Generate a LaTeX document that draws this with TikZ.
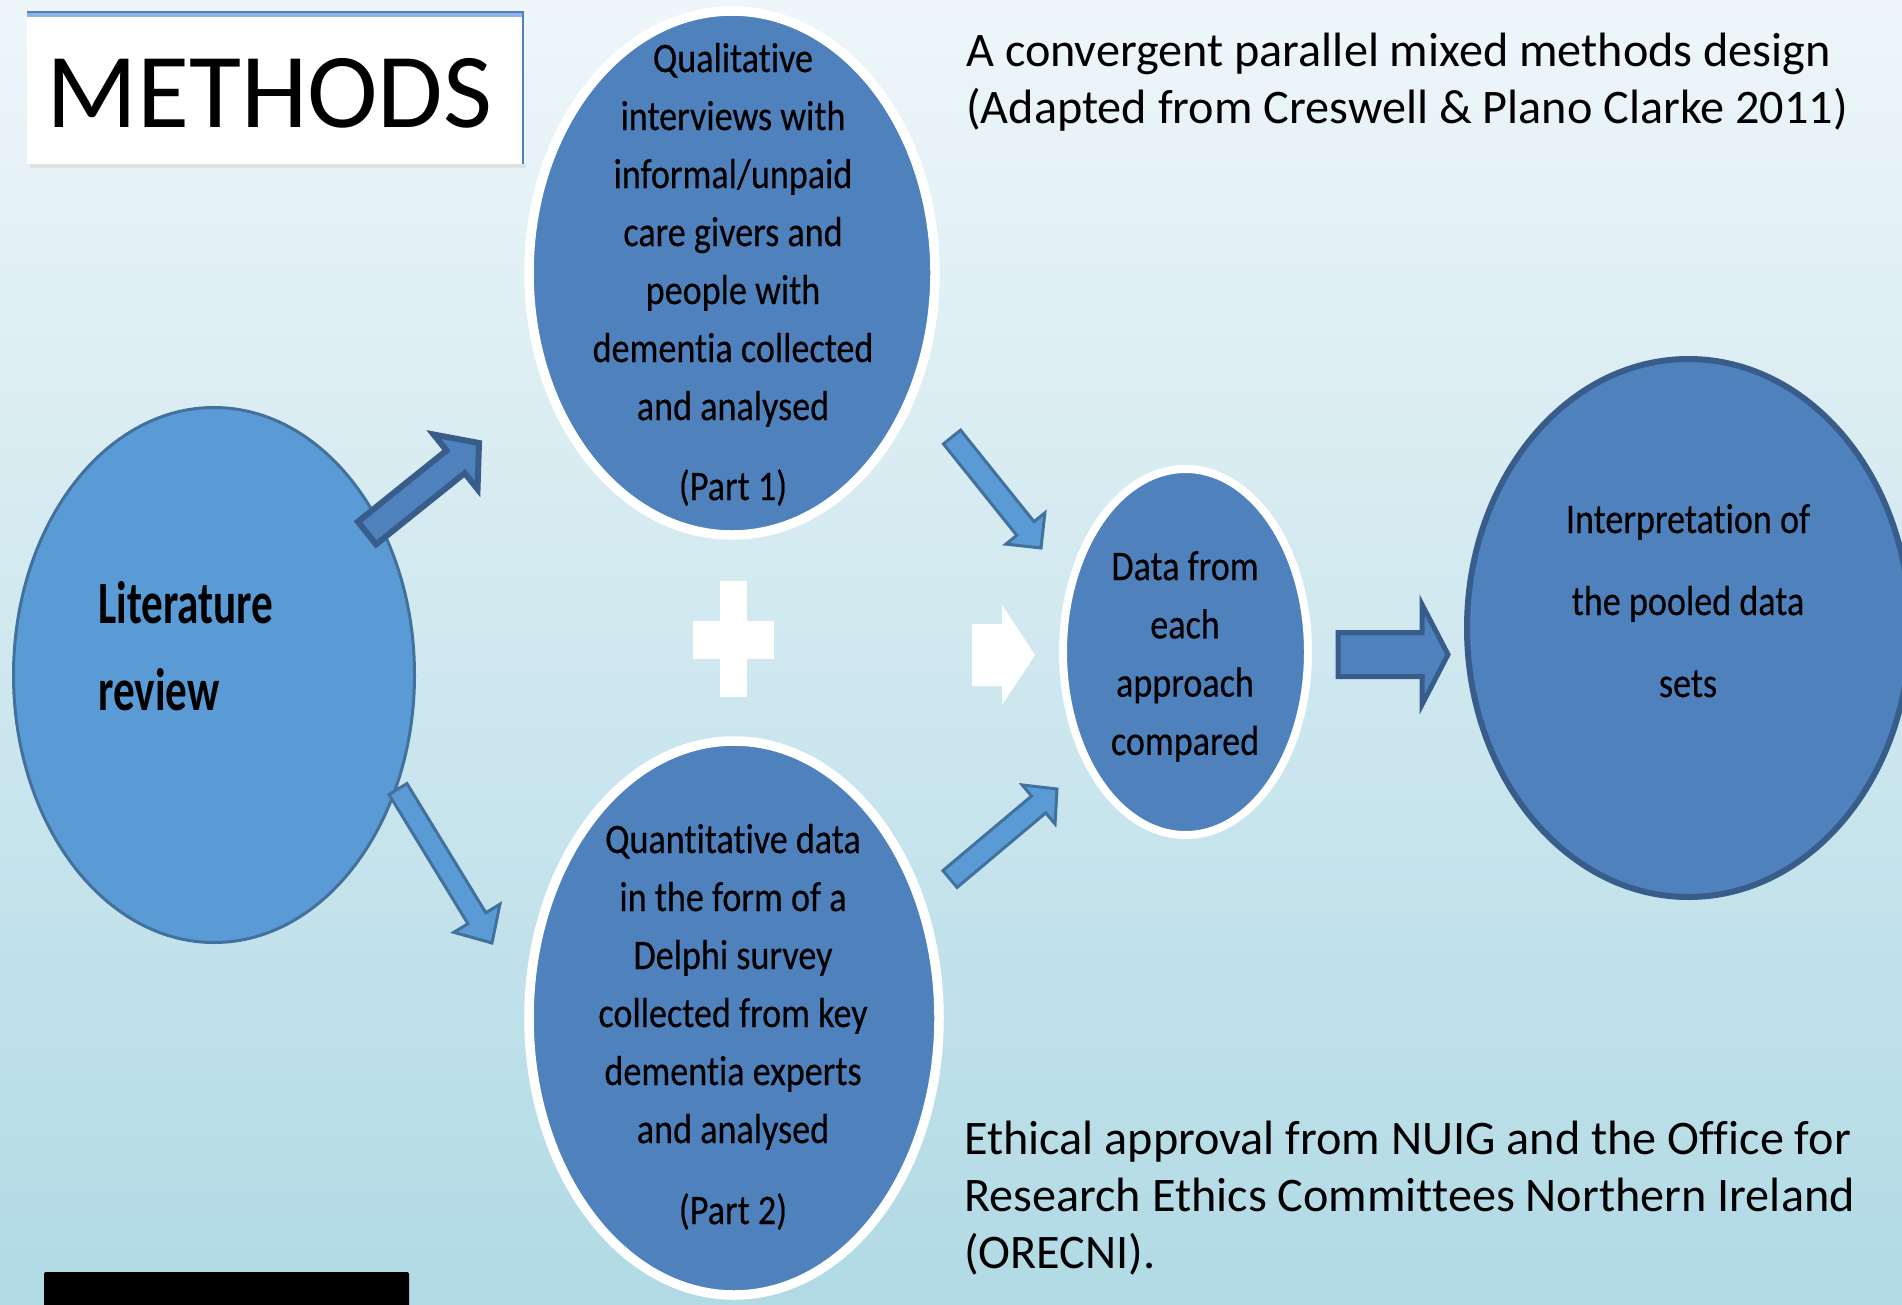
\documentclass[tikz,border=0pt]{standalone}
\usepackage{fontspec}
\setmainfont{Carlito}[Ligatures=NoCommon]
\newfontfamily\narrowfont{Carlito}[FakeStretch=0.86, FakeBold=0.4, Ligatures=NoCommon]
\newfontfamily\litfont{Carlito}[FakeStretch=0.72, Ligatures=NoCommon]
\usetikzlibrary{shapes.geometric,calc}

\definecolor{bgtop}{HTML}{EEF6F9}
\definecolor{bgbottom}{HTML}{B1DAE5}
\definecolor{officeblue}{HTML}{4F81BD}
\definecolor{darkrim}{HTML}{385D8A}
\definecolor{skyblue}{HTML}{5B9BD5}
\definecolor{skyrim}{HTML}{41719C}
\definecolor{stripblue}{HTML}{8EB4E3}

% block arrow: [style]{tail}{tip}{half shaft}{half head}{head length}
\newcommand{\blockarrow}[6][]{%
  \path ($(#3)!#6!(#2)$) coordinate (neck);
  \filldraw[#1] ($(#2)!#4!90:(#3)$) -- ($(neck)!#4!90:(#3)$)
    -- ($(neck)!#5!90:(#3)$) -- (#3) -- ($(neck)!#5!-90:(#3)$)
    -- ($(neck)!#4!-90:(#3)$) -- ($(#2)!#4!-90:(#3)$) -- cycle;
}

\tikzset{
  bubble/.style={ellipse, inner sep=0pt, fill=officeblue, draw=white, line width=9.5pt},
  bubbletext/.style={anchor=base, inner sep=0pt, font=\narrowfont\fontsize{42}{50}\selectfont},
  littext/.style={anchor=base west, inner sep=0pt, font=\litfont\bfseries\fontsize{60}{70}\selectfont},
  plaintext/.style={anchor=base west, inner sep=0pt, font=\fontsize{48.2}{57}\selectfont},
  darkarrow/.style={fill=officeblue, draw=darkrim, line width=6pt},
  lightarrow/.style={fill=skyblue, draw=skyrim, line width=3pt},
}

\begin{document}
\begin{tikzpicture}[x=1pt, y=-1pt]
  \useasboundingbox (0,0) rectangle (1902,1304);
  \clip (0,0) rectangle (1902,1304);
  \shade[top color=bgtop, bottom color=bgbottom] (0,0) rectangle (1902,1304);

  % title box
  \fill[black!12] (30,164) rectangle (526,168);
  \fill[white] (27,12) rectangle (523,164);
  \fill[stripblue] (27,12) rectangle (523,17);
  \draw[officeblue, line width=1.2pt] (27,12) -- (523,12) -- (523,164);
  \node[anchor=base west, inner sep=0pt, font=\fontsize{106.5}{110}\selectfont] (title) at (46,127) {METHODS};

  % circles
  \node[ellipse, inner sep=0pt, fill=skyblue, draw=skyrim, line width=3pt,
        minimum width=401, minimum height=535] (lit) at (214,675) {};
  \node[bubble, minimum width=406, minimum height=524] (qual) at (732,273) {};
  \node[bubble, minimum width=410, minimum height=554] (quant) at (734,1018) {};
  \node[bubble, line width=8pt, minimum width=245, minimum height=366] (data) at (1185.5,652) {};
  \node[bubble, draw=darkrim, line width=6pt, minimum width=443, minimum height=538] (interp) at (1688.5,628) {};

  % circle texts
  \node[littext] (lit-1) at (98,623) {Literature};
  \node[littext] (lit-2) at (98,710) {review};
  \foreach \t [count=\i from 0] in {Qualitative,interviews with,informal/unpaid,care givers and,people with,dementia collected,and analysed}
    \node[bubbletext] (qual-\i) at (733,72+58*\i) {\t};
  \node[bubbletext] (qual-part) at (733,500) {(Part 1)};
  \foreach \t [count=\i from 0] in {Quantitative data,in the form of a,Delphi survey,collected from key,dementia experts,and analysed}
    \node[bubbletext] (quant-\i) at (733,853+58*\i) {\t};
  \node[bubbletext] (quant-part) at (733,1224) {(Part 2)};
  \foreach \t [count=\i from 0] in {Data from,each,approach,compared}
    \node[bubbletext] (data-\i) at (1185,580+58.3*\i) {\t};
  \foreach \t [count=\i from 0] in {Interpretation of,the pooled data,sets}
    \node[bubbletext] (interp-\i) at (1688,533+82*\i) {\t};

  % arrows
  \coordinate (a-tail) at (367,533);   \coordinate (a-tip) at (479,443);
  \coordinate (b-tail) at (398,789);   \coordinate (b-tip) at (492,943);
  \coordinate (c-tail) at (952,437);   \coordinate (c-tip) at (1041,548);
  \coordinate (f-tail) at (950,879);   \coordinate (f-tip) at (1057,789);
  \coordinate (g-tail) at (1338,654.5); \coordinate (g-tip) at (1448,654.5);
  \coordinate (e-tail) at (972,655);   \coordinate (e-tip) at (1035,655);
  \blockarrow[darkarrow]{a-tail}{a-tip}{14.5pt}{35pt}{30pt}
  \blockarrow[lightarrow]{b-tail}{b-tip}{10.5pt}{27pt}{29pt}
  \blockarrow[lightarrow]{c-tail}{c-tip}{11pt}{25pt}{25pt}
  \blockarrow[lightarrow]{f-tail}{f-tip}{11pt}{25.5pt}{24pt}
  \blockarrow[darkarrow, line width=5pt]{g-tail}{g-tip}{22pt}{50pt}{26pt}
  \blockarrow[fill=white, draw=none]{e-tail}{e-tip}{31pt}{50pt}{33pt}

  % plus sign
  \fill[white] (720,581) rectangle (747,697);
  \fill[white] (693,621) rectangle (774,659);

  % side notes
  \node[plaintext] (intro-1) at (966,66) {A convergent parallel mixed methods design};
  \node[plaintext] (intro-2) at (966,123) {(Adapted from Creswell \& Plano Clarke 2011)};
  \node[plaintext] (ethics-1) at (964,1154) {Ethical approval from NUIG and the Office for};
  \node[plaintext] (ethics-2) at (964,1211) {Research Ethics Committees Northern Ireland};
  \node[plaintext] (ethics-3) at (964,1268) {(ORECNI).};

  % bar at the foot
  \fill[black, rounded corners=2pt] (44,1272) rectangle (409,1320);
\end{tikzpicture}
\end{document}
